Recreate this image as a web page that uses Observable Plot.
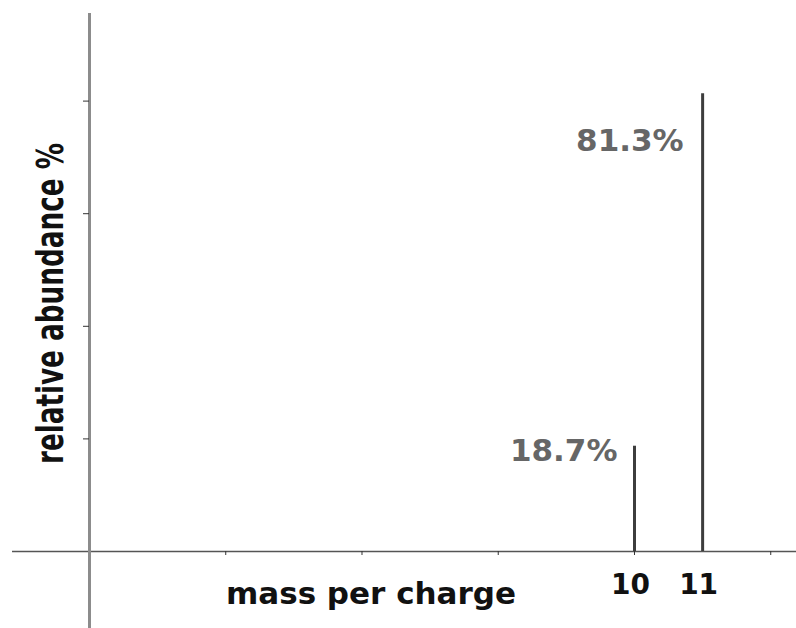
<!DOCTYPE html>
<html>
<head>
<meta charset="utf-8">
<script src="https://cdn.jsdelivr.net/npm/d3@7"></script>
<script src="https://cdn.jsdelivr.net/npm/@observablehq/plot@0.6"></script>
<style>
  html, body { margin: 0; padding: 0; background: #ffffff; }
  #chart svg { display: block; font-family: "DejaVu Sans", sans-serif; }
</style>
</head>
<body>
<div id="chart"></div>
<script>
// ---- data ----
const masses = [10, 11];
const abundances = [18.7, 81.3];
const peakLabels = ["18.7%", "81.3%"];
const xTickValues = [4, 6, 8, 10, 12];
const xLabelValues = [10, 11];
const xTickLabels = ["10", "11"];
const yTickValues = [20, 40, 60, 80];
const xTitle = "mass per charge";
const yTitle = "relative abundance %";

const peaks = masses.map((m, i) => ({mass: m, abundance: abundances[i], label: peakLabels[i]}));
const xLabels = xLabelValues.map((v, i) => ({v, text: xTickLabels[i]}));

// scale extents
const xMin = 2, xMax = 12.378;
const yMin = 0, yMax = 95.56;
const xAxisStart = 0.87;   // x axis line extends left of the y axis
const yAxisEnd = -13.7;    // y axis line extends below the x axis

const plot = Plot.plot({
  width: 796,
  height: 628,
  marginLeft: 89,
  marginRight: 0,
  marginTop: 13,
  marginBottom: 77,
  x: {domain: [xMin, xMax]},
  y: {domain: [yMin, yMax]},
  marks: [
    // axis lines
    Plot.ruleY([0], {x1: xAxisStart, x2: xMax, stroke: "#555", strokeWidth: 1.5}),
    Plot.ruleX([xMin], {y1: yAxisEnd, y2: yMax, stroke: "#8c8c8c", strokeWidth: 3}),
    // ticks
    Plot.axisY(yTickValues, {tickSize: 6, tickFormat: () => "", stroke: "#333", label: null}),
    Plot.axisX(xTickValues, {tickSize: 4, tickFormat: () => "", stroke: "#333", label: null}),
    // tick labels
    Plot.text(xLabels, {x: "v", y: 0, text: "text", dy: 42, dx: -4, lineAnchor: "bottom",
      fontSize: 28, fontWeight: "bold", fill: "#111"}),
    // peaks
    Plot.ruleX(peaks, {x: "mass", y1: 0, y2: "abundance", stroke: "#3d3d3d", strokeWidth: 3}),
    Plot.text(peaks.filter(d => d.abundance < 50), {x: "mass", y: "abundance", text: "label",
      textAnchor: "end", lineAnchor: "bottom", dx: -17, dy: 15, fontSize: 31, fontWeight: "bold", fill: "#666"}),
    Plot.text(peaks.filter(d => d.abundance >= 50), {x: "mass", y: "abundance", text: "label",
      textAnchor: "end", lineAnchor: "bottom", dx: -19, dy: 57, fontSize: 31, fontWeight: "bold", fill: "#666"}),
    // axis titles
    Plot.text([xTitle], {frameAnchor: "bottom", textAnchor: "middle", dx: -72, dy: 52, lineAnchor: "bottom",
      fontSize: 31, fontWeight: "bold", fill: "#111"}),
    Plot.text([yTitle], {frameAnchor: "left", textAnchor: "middle", dx: -27, dy: 21, rotate: -90, lineAnchor: "bottom",
      fontSize: 37, fontWeight: "bold", fill: "#111"})
  ]
});

document.getElementById("chart").appendChild(plot);

// compress the rotated y title along its length
d3.select(plot).selectAll("text").filter(function () { return this.textContent === yTitle; })
  .each(function () {
    const t = this.getAttribute("transform") || "";
    this.setAttribute("transform", t + " scale(0.71,1)");
  });
</script>
</body>
</html>
